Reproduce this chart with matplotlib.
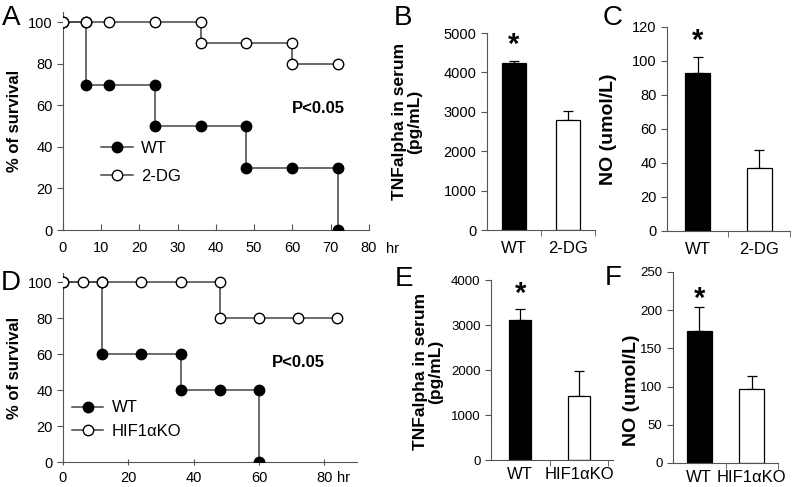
import numpy as np
import matplotlib
matplotlib.use('Agg')
from matplotlib import pyplot as plt

plt.rcParams['font.family'] = ['Liberation Sans', 'DejaVu Sans']

# survival data, panel A (hours, % survival)
a_wt_x = [0, 6, 6, 12, 24, 24, 36, 48, 48, 60, 72, 72]
a_wt_y = [100, 100, 70, 70, 70, 50, 50, 50, 30, 30, 30, 0]
a_dg_x = [0, 6, 12, 24, 36, 36, 48, 60, 60, 72]
a_dg_y = [100, 100, 100, 100, 100, 90, 90, 90, 80, 80]

# survival data, panel D
d_wt_x = [0, 12, 12, 24, 36, 36, 48, 60, 60]
d_wt_y = [100, 100, 60, 60, 60, 40, 40, 40, 0]
d_ko_x = [0, 6, 12, 24, 36, 48, 48, 60, 72, 84]
d_ko_y = [100, 100, 100, 100, 100, 100, 80, 80, 80, 80]

# bar data
b_labels = ['WT', '2-DG']
b_vals = [4230, 2800]
b_err = [70, 230]
c_vals = [93, 37]
c_err = [9.5, 10.5]
e_labels = ['WT', 'HIF1αKO']
e_vals = [3110, 1420]
e_err = [245, 560]
f_vals = [173, 97]
f_err = [31, 17]

fig = plt.figure(figsize=(8.07, 4.87), dpi=100)
spine_col = '#555555'
line_col = '#444444'


def survival(ax, x1, y1, x2, y2, lab1, lab2):
    ax.plot(x1, y1, '-o', color=line_col, lw=1.1, ms=7.5, mfc='black',
            mec='black', mew=1, label=lab1, zorder=3)
    ax.plot(x2, y2, '-o', color=line_col, lw=1.1, ms=7.5, mfc='white',
            mec='black', mew=1, label=lab2, zorder=4)
    for s in ['top', 'right']:
        ax.spines[s].set_visible(False)
    for s in ['left', 'bottom']:
        ax.spines[s].set_color(spine_col)
    ax.set_ylim(0, 105)
    ax.set_yticks([0, 20, 40, 60, 80, 100])
    ax.tick_params(axis='y', direction='out', length=4, color=spine_col,
                   labelsize=10.5)
    ax.tick_params(axis='x', length=4, color=spine_col, labelsize=10.5)
    ax.set_ylabel('% of survival', fontsize=12, fontweight='bold', labelpad=4)


# panel A
axA = fig.add_axes([0.078, 0.5277, 0.379, 0.4476])
survival(axA, a_wt_x, a_wt_y, a_dg_x, a_dg_y, 'WT', '2-DG')
axA.set_xlim(0, 80)
axA.set_xticks(np.arange(0, 81, 10))
axA.tick_params(axis='x', direction='in', pad=8)
axA.annotate('hr', xy=(80, 0), xytext=(12.5, -13.5), textcoords='offset points',
             fontsize=10.5, va='center', ha='left', annotation_clip=False)
axA.text(66.7, 58.6, 'P<0.05', fontsize=12, fontweight='bold', ha='center', va='center')
axA.legend(loc='center left', bbox_to_anchor=(0.125, 0.31), frameon=False,
           fontsize=12, borderpad=0, borderaxespad=0, labelspacing=0.8,
           handlelength=1.9, handletextpad=0.5)

# panel D
axD = fig.add_axes([0.078, 0.0513, 0.3643, 0.388])
survival(axD, d_wt_x, d_wt_y, d_ko_x, d_ko_y, 'WT', 'HIF1αKO')
axD.set_xlim(0, 90)
axD.set_xticks([0, 20, 40, 60, 80])
axD.tick_params(axis='x', direction='inout', length=5, pad=4)
axD.annotate('hr', xy=(80, 0), xytext=(9, -11.5), textcoords='offset points',
             fontsize=10.5, va='center', ha='left', annotation_clip=False)
axD.text(72, 55.3, 'P<0.05', fontsize=12, fontweight='bold', ha='center', va='center')
axD.legend(loc='center left', bbox_to_anchor=(0.03, 0.225), frameon=False,
           fontsize=12, borderpad=0, borderaxespad=0, labelspacing=0.5,
           handlelength=1.9, handletextpad=0.5)


def bars(ax, labels, vals, errs, width, ymax, yticks, ylabel, star_y,
         label_size=12.5, tick_size=10.5, pad=8):
    x = np.arange(len(vals))
    ax.bar(x, vals, width, color=['black', 'white'], edgecolor='black', lw=0.9,
           zorder=2)
    ax.errorbar(x, vals, yerr=[np.zeros(len(errs)), errs], fmt='none',
                ecolor='black', elinewidth=0.9, capsize=3.5, capthick=0.9, zorder=1)
    ax.set_xlim(-0.5, 1.5)
    ax.set_ylim(0, ymax)
    ax.set_yticks(yticks)
    ax.set_xticks(x)
    ax.set_xticklabels(labels, fontsize=12)
    ax.set_xticks([0.5, 1.5], minor=True)
    ax.tick_params(axis='x', which='major', length=0, pad=pad)
    ax.tick_params(axis='x', which='minor', length=4, direction='out', color=spine_col)
    ax.tick_params(axis='y', length=4, direction='out', color=spine_col,
                   labelsize=tick_size)
    for s in ['top', 'right']:
        ax.spines[s].set_visible(False)
    for s in ['left', 'bottom']:
        ax.spines[s].set_color(spine_col)
    ax.set_ylabel(ylabel, fontsize=label_size, fontweight='bold', linespacing=1.0)
    ax.text(0, star_y, '*', fontsize=21, fontweight='bold', ha='center', va='center')


axB = fig.add_axes([0.6035, 0.5277, 0.1338, 0.4045])
bars(axB, b_labels, b_vals, b_err, 0.43, 5000, [0, 1000, 2000, 3000, 4000, 5000],
     'TNFalpha in serum\n(pg/mL)', 4700)
axB.yaxis.set_label_coords(-0.6, 0.55)

axC = fig.add_axes([0.8265, 0.5257, 0.1524, 0.4189])
bars(axC, b_labels, c_vals, c_err, 0.41, 120, [0, 20, 40, 60, 80, 100, 120],
     'NO (umol/L)', 112, label_size=14)
axC.yaxis.set_label_coords(-0.41, 0.5)

axE = fig.add_axes([0.6084, 0.0554, 0.1512, 0.3696])
bars(axE, e_labels, e_vals, e_err, 0.38, 4000, [0, 1000, 2000, 3000, 4000],
     'TNFalpha in serum\n(pg/mL)', 3700, tick_size=9.5, pad=5)
axE.set_xlim(-0.5, 1.58)
axE.yaxis.set_label_coords(-0.39, 0.49)

axF = fig.add_axes([0.834, 0.0493, 0.1301, 0.3922])
bars(axF, e_labels, f_vals, f_err, 0.48, 250, [0, 50, 100, 150, 200, 250],
     'NO (umol/L)', 215, label_size=14, tick_size=9.5, pad=5)
axF.yaxis.set_label_coords(-0.31, 0.38)

# panel letters
for letter, px, py in [('A', 11, 18), ('B', 403, 18), ('C', 613, 18),
                       ('D', 11, 283), ('E', 404, 279), ('F', 613, 278)]:
    fig.text(px / 807, 1 - py / 487, letter, fontsize=20, ha='center', va='center')

fig.savefig('out.png', dpi=100)
